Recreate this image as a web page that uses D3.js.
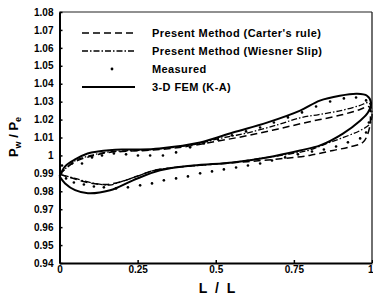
<!DOCTYPE html>
<html><head><meta charset="utf-8">
<script src="https://cdn.jsdelivr.net/npm/d3@7"></script>
<style>
body{margin:0;background:#fff;}
svg{display:block;font-family:"Liberation Sans",Arial,sans-serif;}
</style></head>
<body><svg id="c" width="373" height="297"></svg>
<script>
// ---- data ----
const xTickValues = [0, 0.25, 0.5, 0.75, 1];
const xTickLabels = ["0", "0.25", "0.5", "0.75", "1"];
const yTickValues = [0.94, 0.95, 0.96, 0.97, 0.98, 0.99, 1.00, 1.01, 1.02, 1.03, 1.04, 1.05, 1.06, 1.07, 1.08];
const yTickLabels = ["0.94", "0.95", "0.96", "0.97", "0.98", "0.99", "1", "1.01", "1.02", "1.03", "1.04", "1.05", "1.06", "1.07", "1.08"];
const seriesNames = ["Present Method (Carter's rule)", "Present Method (Wiesner Slip)", "Measured", "3-D FEM (K-A)"];

// 3-D FEM (K-A): closed loop (upper branch 0→1, lower branch 1→0)
const femX = [0, 0.018, 0.05, 0.09, 0.123, 0.2, 0.258, 0.32, 0.45, 0.555, 0.664, 0.77, 0.833, 0.897, 0.952, 0.984, 0.997,
              0.987, 0.962, 0.907, 0.834, 0.77, 0.664, 0.555, 0.427, 0.322, 0.235, 0.162, 0.091, 0.05, 0.018, 0];
const femY = [0.9883, 0.9939, 0.9978, 1.0011, 1.0022, 1.0033, 1.0033, 1.0039, 1.0072, 1.0128, 1.0183, 1.025, 1.0306, 1.0333, 1.0344, 1.0333, 1.0294,
              1.0239, 1.0194, 1.0122, 1.0056, 1.0028, 0.9989, 0.9961, 0.9944, 0.9917, 0.9861, 0.9806, 0.9789, 0.9806, 0.9844, 0.9883];

// Present Method (Carter's rule)
const carterX = [0, 0.05, 0.1, 0.15, 0.2, 0.3, 0.4, 0.5, 0.6, 0.7, 0.8, 0.9, 0.96, 0.99,
                 0.995, 0.99, 0.972, 0.93, 0.875, 0.8, 0.7, 0.6, 0.5, 0.4, 0.3, 0.25, 0.2, 0.15, 0.1, 0.05, 0];
const carterY = [0.9895, 0.9965, 0.9995, 1.0015, 1.0022, 1.003, 1.0048, 1.0078, 1.011, 1.0148, 1.0188, 1.0225, 1.0255, 1.0272,
                 1.021, 1.014, 1.0075, 1.0048, 1.0028, 1.0, 0.998, 0.9965, 0.9952, 0.9938, 0.9915, 0.9885, 0.9855, 0.9838, 0.9845, 0.9868, 0.9895];

// Present Method (Wiesner Slip)
const wiesnerX = [0, 0.05, 0.1, 0.15, 0.2, 0.3, 0.45, 0.5, 0.6, 0.7, 0.77, 0.83, 0.9, 0.96, 0.99,
                  1.0, 0.994, 0.962, 0.9, 0.856, 0.8, 0.747, 0.65, 0.55, 0.45, 0.35, 0.3, 0.25, 0.2, 0.16, 0.1, 0.05, 0];
const wiesnerY = [0.9895, 0.997, 1.0, 1.0018, 1.0025, 1.0033, 1.0067, 1.009, 1.0125, 1.0172, 1.021, 1.0228, 1.025, 1.0278, 1.0294,
                  1.024, 1.0178, 1.0139, 1.0095, 1.0067, 1.003, 1.0011, 0.9985, 0.996, 0.9945, 0.993, 0.9915, 0.9885, 0.9855, 0.9835, 0.9848, 0.9872, 0.9895];

// Measured
const measX = [0.008, 0.040, 0.072, 0.104, 0.136, 0.174, 0.213, 0.251, 0.290, 0.331, 0.373, 0.418, 0.462, 0.507, 0.552, 0.597, 0.642, 0.686, 0.731, 0.776, 0.821, 0.866, 0.910, 0.949, 0.981, 0.994, 0.990, 0.981,
               0.962, 0.923, 0.885, 0.846, 0.808, 0.763, 0.722, 0.680, 0.642, 0.603, 0.565, 0.526, 0.488, 0.450, 0.411, 0.373, 0.334, 0.296, 0.258, 0.219, 0.181, 0.142, 0.110, 0.078, 0.046, 0.021];
const measY = [0.9944, 0.9955, 0.9955, 0.9989, 1.0, 1.0011, 1.0006, 1.0, 1.0, 1.0, 1.0017, 1.0045, 1.0067, 1.0089, 1.0112, 1.0134, 1.0156, 1.0184, 1.0212, 1.024, 1.0273, 1.0301, 1.0318, 1.0323, 1.0307, 1.0251, 1.0184, 1.0128,
               1.0095, 1.0073, 1.005, 1.0033, 1.0022, 1.0006, 0.9989, 0.9972, 0.9955, 0.9944, 0.9933, 0.9922, 0.9911, 0.99, 0.9883, 0.9872, 0.9861, 0.9844, 0.9833, 0.9822, 0.9816, 0.9822, 0.9827, 0.9838, 0.9849, 0.9872];

// ---- chart ----
const svg = d3.select("#c");
const x = d3.scaleLinear().domain([0, 1]).range([59.5, 372]);
const y = d3.scaleLinear().domain([0.94, 1.08]).range([263, 12]);

const zip = (a, b) => a.map((v, i) => [v, b[i]]);
const line = d3.line().x(d => x(d[0])).y(d => y(d[1])).curve(d3.curveCatmullRom.alpha(0.5));

// frame
svg.append("line").attr("x1", 59.5).attr("x2", 372).attr("y1", 12).attr("y2", 12).attr("stroke", "#222").attr("stroke-width", 1.2);
svg.append("line").attr("x1", 372).attr("x2", 372).attr("y1", 12).attr("y2", 263).attr("stroke", "#222").attr("stroke-width", 1.3);

// axes
const yAxis = d3.axisLeft(y).tickValues(yTickValues).tickFormat((d, i) => yTickLabels[i]).tickSizeInner(-3).tickSizeOuter(0).tickPadding(6);
const gy = svg.append("g").attr("transform", "translate(59.5,0)").call(yAxis);
const xAxis = d3.axisBottom(x).tickValues(xTickValues).tickFormat((d, i) => xTickLabels[i]).tickSizeInner(-3).tickSizeOuter(0).tickPadding(3);
const gx = svg.append("g").attr("transform", "translate(0,263)").call(xAxis);
[gx, gy].forEach(g => {
  g.select(".domain").attr("stroke", "#000").attr("stroke-width", 2);
  g.selectAll(".tick line").attr("stroke", "#000").attr("stroke-width", 1.5);
  g.selectAll("text").attr("fill", "#000").style("font-size", "10px").style("font-weight", "bold");
});
// keep the last x label ("1") inside the picture
gx.selectAll(".tick text").filter((d, i) => i === xTickValues.length - 1)
  .attr("text-anchor", "end").attr("dx", 1);

// series
svg.append("path").attr("d", line(zip(carterX, carterY))).attr("fill", "none").attr("stroke", "#000")
  .attr("stroke-width", 1.5).attr("stroke-dasharray", "7,4");
svg.append("path").attr("d", line(zip(wiesnerX, wiesnerY))).attr("fill", "none").attr("stroke", "#000")
  .attr("stroke-width", 1.3).attr("stroke-dasharray", "6,2,1.5,2");
svg.append("path").attr("d", line(zip(femX, femY))).attr("fill", "none").attr("stroke", "#000")
  .attr("stroke-width", 2);
svg.append("g").selectAll("circle").data(zip(measX, measY)).join("circle")
  .attr("cx", d => x(d[0])).attr("cy", d => y(d[1])).attr("r", 1.3).attr("fill", "#000");

// legend
const legY = [33, 51, 69, 87];
const lg = svg.append("g");
lg.append("line").attr("x1", 82).attr("x2", 135).attr("y1", legY[0]).attr("y2", legY[0]).attr("stroke", "#000").attr("stroke-width", 1.5).attr("stroke-dasharray", "7,4");
lg.append("line").attr("x1", 82).attr("x2", 135).attr("y1", legY[1]).attr("y2", legY[1]).attr("stroke", "#000").attr("stroke-width", 1.3).attr("stroke-dasharray", "6,2,1.5,2");
lg.append("circle").attr("cx", 112).attr("cy", legY[2]).attr("r", 1.4).attr("fill", "#000");
lg.append("line").attr("x1", 82).attr("x2", 135).attr("y1", legY[3]).attr("y2", legY[3]).attr("stroke", "#000").attr("stroke-width", 2);
lg.selectAll("text").data(seriesNames).join("text")
  .attr("x", 152).attr("y", (d, i) => legY[i] + 4)
  .style("font-size", "11px").style("font-weight", "bold").style("letter-spacing", "0.4px")
  .text(d => d);

// axis titles
svg.append("text").attr("x", 218).attr("y", 293).attr("text-anchor", "middle")
  .style("font-size", "14px").style("font-weight", "bold").style("letter-spacing", "2px").text("L / L");
const yt = svg.append("text").attr("transform", "translate(18,137) rotate(-90)").attr("text-anchor", "middle")
  .style("font-size", "13px").style("font-weight", "bold");
yt.append("tspan").text("P");
yt.append("tspan").attr("dy", 3).style("font-size", "9px").text("w");
yt.append("tspan").attr("dy", -3).text(" / P");
yt.append("tspan").attr("dy", 3).style("font-size", "9px").text("e");
</script>
</body></html>
